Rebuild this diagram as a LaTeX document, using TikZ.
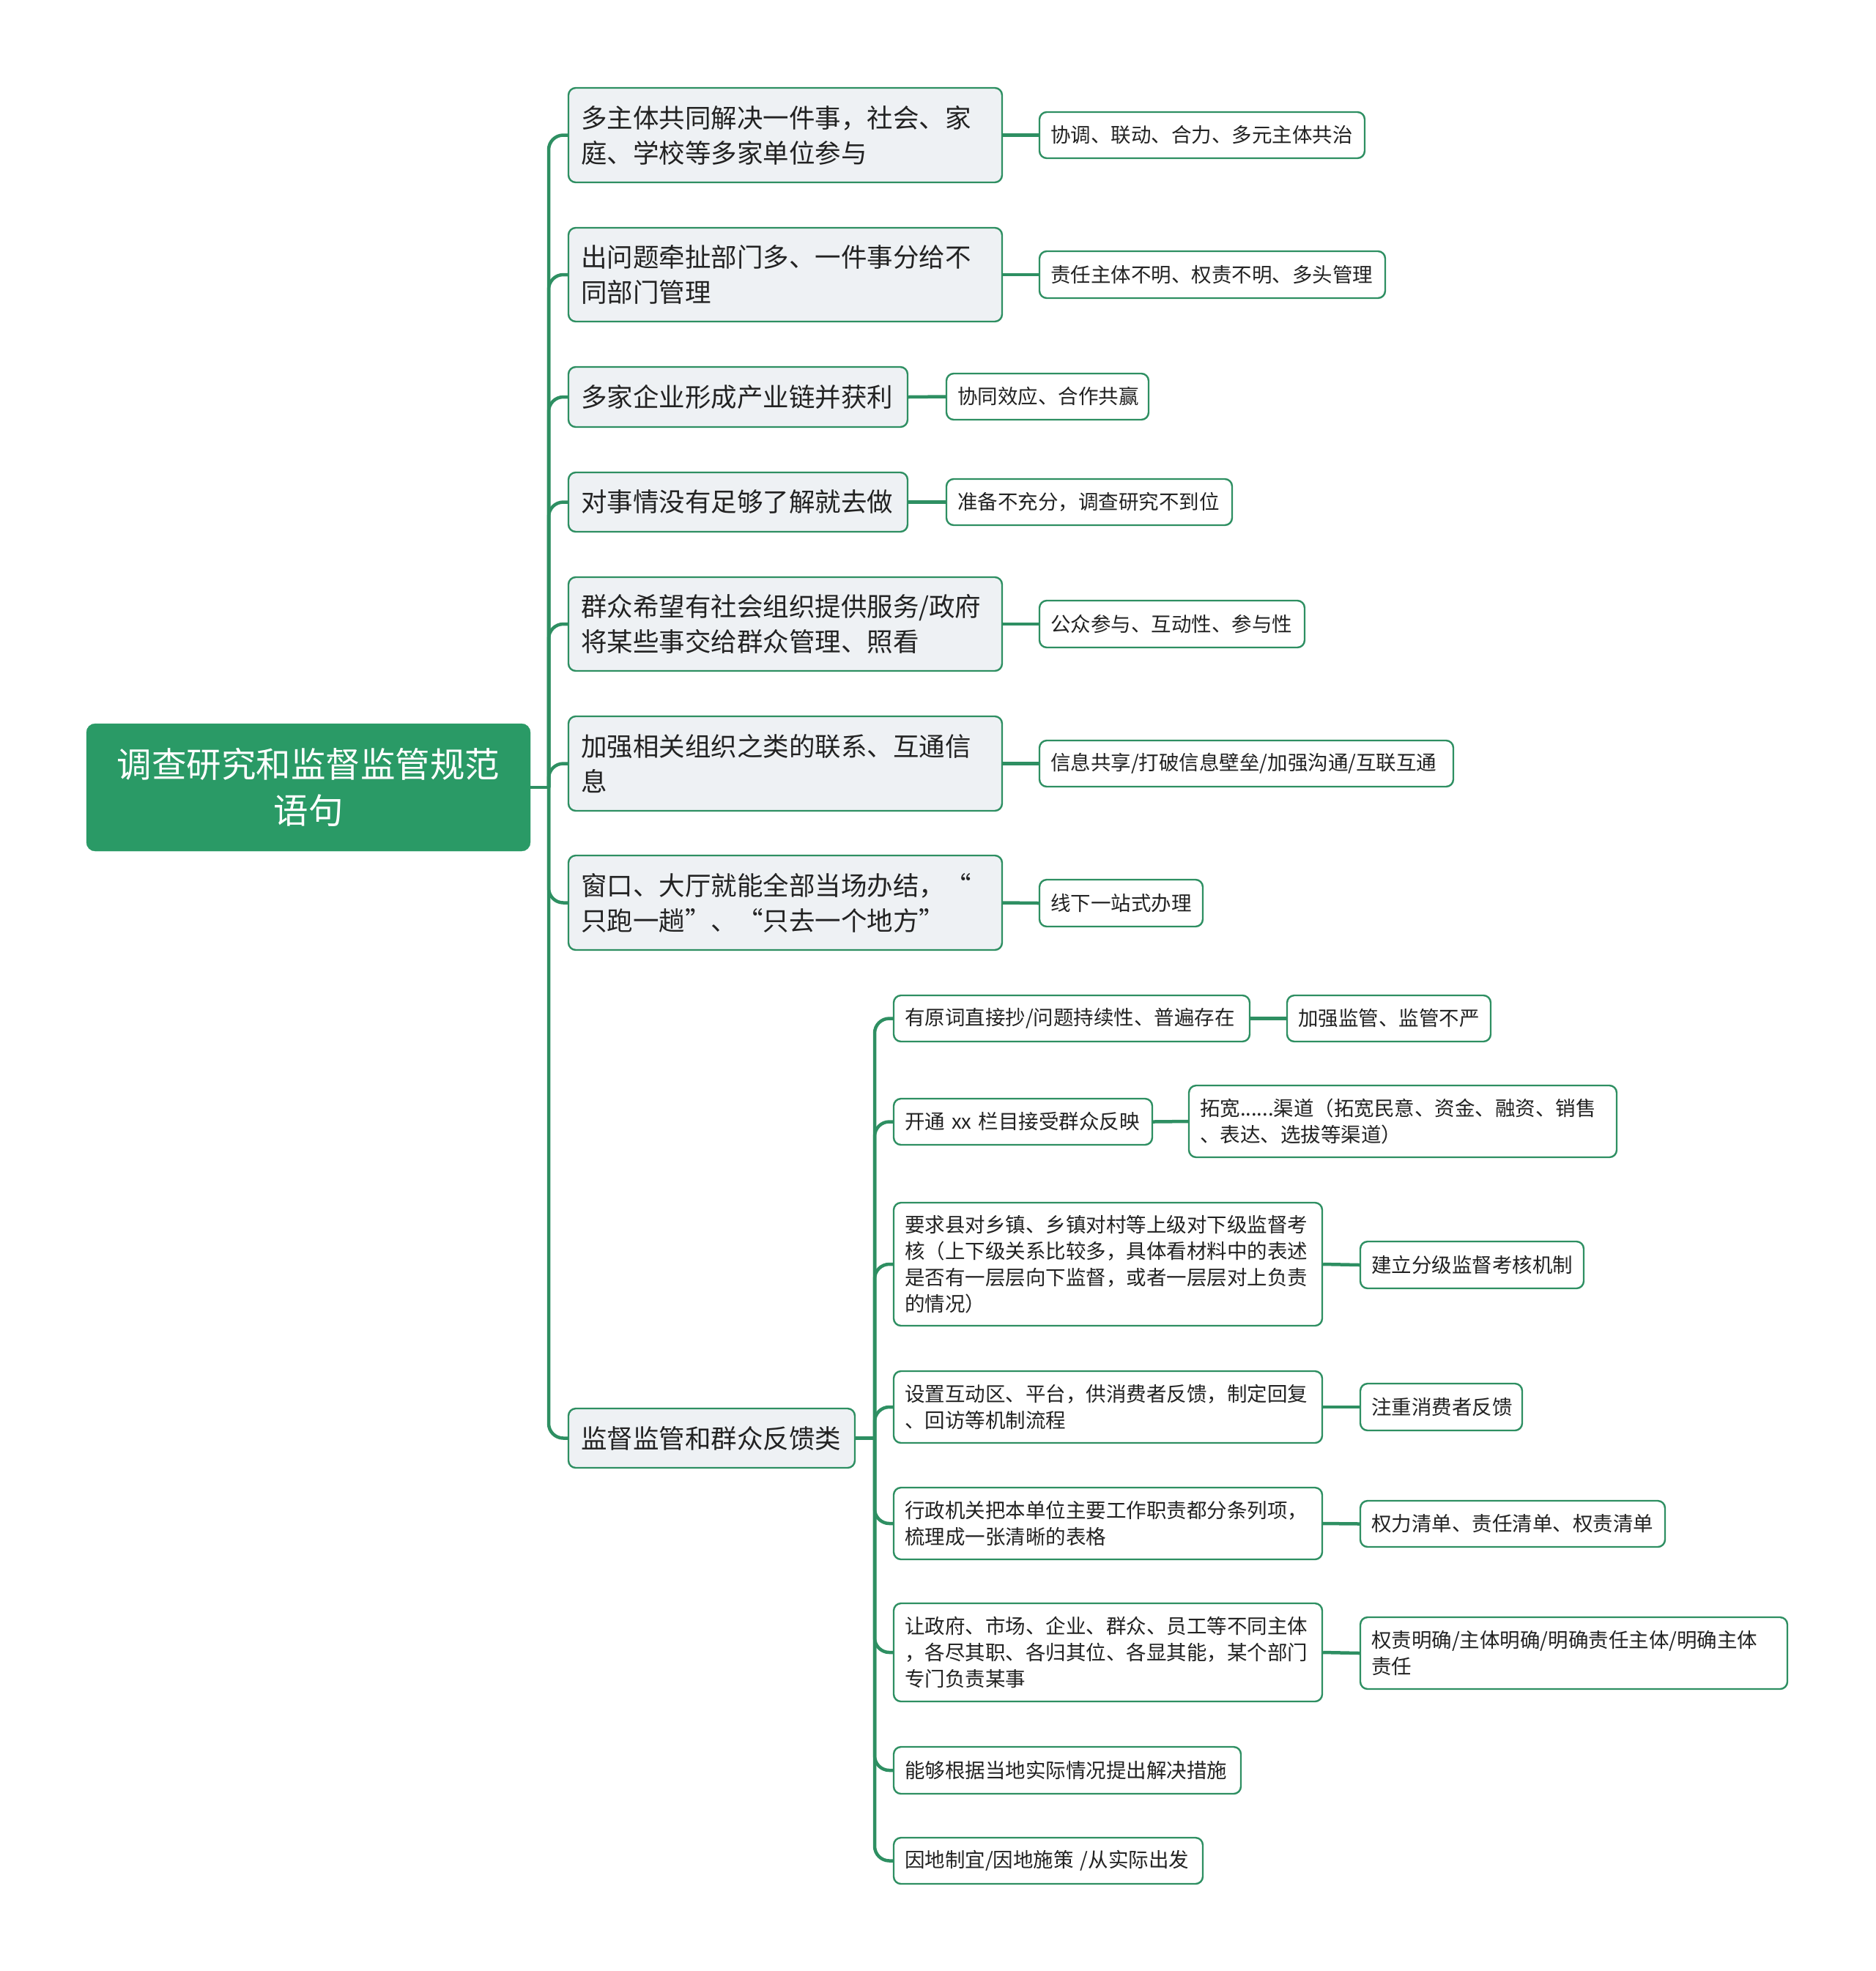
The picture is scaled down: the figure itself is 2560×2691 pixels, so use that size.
\documentclass[tikz,border=0pt]{standalone}
\usepackage{fontspec}
\setmainfont{Noto Sans CJK SC}
\definecolor{gline}{HTML}{2E8F62}
\definecolor{rootfill}{HTML}{2A9A66}
\definecolor{onefill}{HTML}{EEF1F4}
\definecolor{txt}{HTML}{222222}
\tikzset{
  base/.style={draw=gline, line width=2.4pt, rounded corners=10pt, inner ysep=0pt, align=left, text=txt, anchor=center},
  rootbox/.style={fill=rootfill, draw=rootfill, rounded corners=12pt, text=white, align=center, inner xsep=0pt,
     font=\fontsize{47.5pt}{63pt}\selectfont},
  lone/.style={base, fill=onefill, inner xsep=17pt, font=\fontsize{35.5pt}{48pt}\selectfont},
  ltwo/.style={base, fill=white, inner xsep=15pt, font=\fontsize{27.5pt}{36pt}\selectfont},
  conn/.style={draw=gline, line width=4.5pt, rounded corners=20pt},
}
\newcommand{\bx}[7]{\node[#1, minimum width=#4pt, minimum height=#5pt, text width=#6pt] (#2) at (#3) {#7};}
\begin{document}
\begin{tikzpicture}[x=1pt, y=-1pt]
\useasboundingbox (0,0) rectangle (2560,2691);
% root
\node[rootbox, minimum width=606pt, minimum height=174pt, text width=606pt] (root) at (421,1075) {调查研究和监督监管规范\\语句};
% level one
\bx{lone}{n1}{1072,184.5}{592}{129}{558}{多主体共同解决一件事，社会、家\\庭、学校等多家单位参与}
\bx{lone}{n2}{1072,375}{592}{128}{558}{出问题牵扯部门多、一件事分给不\\同部门管理}
\bx{lone}{n3}{1007.5,542}{463}{82}{429}{多家企业形成产业链并获利}
\bx{lone}{n4}{1007.5,685.5}{463}{81}{429}{对事情没有足够了解就去做}
\bx{lone}{n5}{1072,852}{592}{128}{558}{群众希望有社会组织提供服务/政府\\将某些事交给群众管理、照看}
\bx{lone}{n6}{1072,1042.5}{592}{129}{558}{加强相关组织之类的联系、互通信\\息}
\bx{lone}{n7}{1072,1232.5}{592}{129}{558}{窗口、大厅就能全部当场办结，“\\只跑一趟”、“只去一个地方”}
\bx{lone}{n8}{971.5,1963.5}{391}{81}{357}{监督监管和群众反馈类}
% level two
\bx{ltwo}{m1}{1641,184.5}{444}{63}{414}{协调、联动、合力、多元主体共治}
\bx{ltwo}{m2}{1655,375}{472}{64}{442}{责任主体不明、权责不明、多头管理}
\bx{ltwo}{m3}{1430,541.5}{276}{63}{246}{协同效应、合作共赢}
\bx{ltwo}{m4}{1487,685.5}{390}{63}{360}{准备不充分，调查研究不到位}
\bx{ltwo}{m5}{1600,852}{362}{64}{332}{公众参与、互动性、参与性}
\bx{ltwo}{m6}{1701.5,1042.5}{565}{63}{535}{信息共享/打破信息壁垒/加强沟通/互联互通}
\bx{ltwo}{m7}{1530.5,1233}{223}{64}{193}{线下一站式办理}
% under n8
\bx{ltwo}{a}{1463,1390.5}{486}{63}{456}{有原词直接抄/问题持续性、普遍存在}
\bx{ltwo}{a2}{1896,1390.5}{278}{63}{248}{加强监管、监管不严}
\bx{ltwo}{b}{1396.5,1531.5}{353}{63}{323}{开通 xx 栏目接受群众反映}
\bx{ltwo}{b2}{1915,1531}{584}{98}{554}{拓宽......渠道（拓宽民意、资金、融资、销售\\、表达、选拔等渠道）}
\bx{ltwo}{c}{1512.5,1726}{585}{168}{555}{要求县对乡镇、乡镇对村等上级对下级监督考\\核（上下级关系比较多，具体看材料中的表述\\是否有一层层向下监督，或者一层层对上负责\\的情况）}
\bx{ltwo}{c2}{2009.5,1727}{305}{64}{275}{建立分级监督考核机制}
\bx{ltwo}{d}{1512.5,1921}{585}{98}{555}{设置互动区、平台，供消费者反馈，制定回复\\、回访等机制流程}
\bx{ltwo}{d2}{1967.5,1921}{221}{64}{191}{注重消费者反馈}
\bx{ltwo}{e}{1512.5,2080}{585}{98}{555}{行政机关把本单位主要工作职责都分条列项，\\梳理成一张清晰的表格}
\bx{ltwo}{e2}{2065,2080.5}{416}{63}{386}{权力清单、责任清单、权责清单}
\bx{ltwo}{f}{1512.5,2256}{585}{134}{555}{让政府、市场、企业、群众、员工等不同主体\\，各尽其职、各归其位、各显其能，某个部门\\专门负责某事}
\bx{ltwo}{f2}{2148.5,2257}{583}{98}{553}{权责明确/主体明确/明确责任主体/明确主体\\责任}
\bx{ltwo}{g}{1457,2417}{474}{64}{444}{能够根据当地实际情况提出解决措施}
\bx{ltwo}{h}{1431,2540.5}{422}{63}{392}{因地制宜/因地施策 /从实际出发}
% connectors
\coordinate (t1) at (749,1075);
\coordinate (t2) at (1194,1963.5);
\draw[conn] (root.east) -- (t1);
\foreach \k in {n1,n2,n3,n4,n5,n6,n7,n8} {\draw[conn] (t1) |- (\k.west);}
\draw[conn] (n8.east) -- (t2);
\foreach \k in {a,b,c,d,e,f,g,h} {\draw[conn] (t2) |- (\k.west);}
\draw[conn] (n1.east) -- (m1.west);
\draw[conn] (n2.east) -- (m2.west);
\draw[conn] (n3.east) -- (m3.west);
\draw[conn] (n4.east) -- (m4.west);
\draw[conn] (n5.east) -- (m5.west);
\draw[conn] (n6.east) -- (m6.west);
\draw[conn] (n7.east) -- (m7.west);
\draw[conn] (a.east) -- (a2.west);
\draw[conn] (b.east) -- (b2.west);
\draw[conn] (c.east) -- (c2.west);
\draw[conn] (d.east) -- (d2.west);
\draw[conn] (e.east) -- (e2.west);
\draw[conn] (f.east) -- (f2.west);
\end{tikzpicture}
\end{document}
